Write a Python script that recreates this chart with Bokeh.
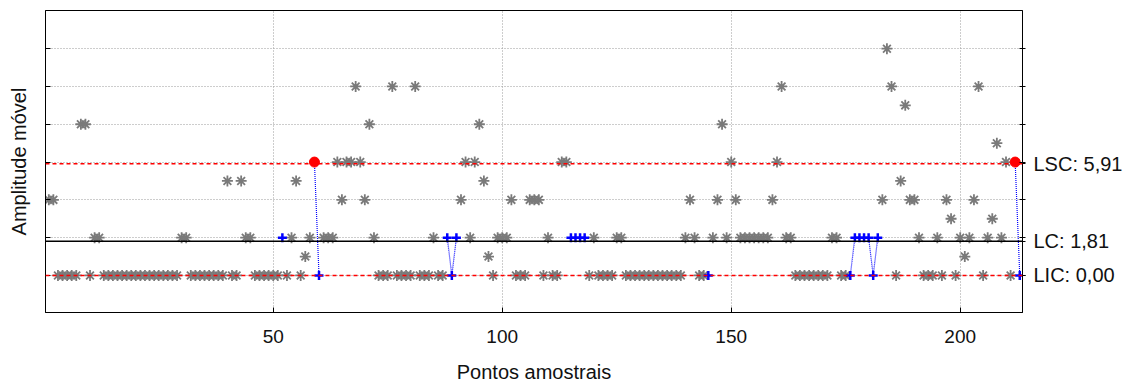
from bokeh.plotting import figure
from bokeh.models import Range1d, FixedTicker, LinearAxis, Span, ColumnDataSource
from bokeh.embed import file_html
from bokeh.resources import INLINE

# ---------------- data ----------------
sample = list(range(1, 214))
moving_range = [
    4, 4, 0, 0, 0, 0, 0, 8, 8, 0,
    2, 2, 0, 0, 0, 0, 0, 0, 0, 0,
    0, 0, 0, 0, 0, 0, 0, 0, 0, 2,
    2, 0, 0, 0, 0, 0, 0, 0, 0, 5,
    0, 0, 5, 2, 2, 0, 0, 0, 0, 0,
    0, 2, 0, 2, 5, 0, 1, 2, 6, 0,
    2, 2, 2, 6, 4, 6, 6, 10, 6, 4,
    8, 2, 0, 0, 0, 10, 0, 0, 0, 0,
    10, 0, 0, 0, 2, 0, 0, 2, 0, 2,
    4, 6, 2, 6, 8, 5, 1, 0, 2, 2,
    2, 4, 0, 0, 0, 4, 4, 4, 0, 2,
    0, 0, 6, 6, 2, 2, 2, 2, 0, 2,
    0, 0, 0, 0, 2, 2, 0, 0, 0, 0,
    0, 0, 0, 0, 0, 0, 0, 0, 0, 2,
    4, 2, 0, 0, 0, 2, 4, 8, 2, 6,
    4, 2, 2, 2, 2, 2, 2, 2, 4, 6,
    10, 2, 2, 0, 0, 0, 0, 0, 0, 0,
    0, 2, 2, 0, 0, 0, 2, 2, 2, 2,
    0, 2, 4, 12, 10, 0, 5, 9, 4, 4,
    2, 0, 0, 0, 2, 0, 4, 3, 0, 2,
    1, 2, 4, 10, 0, 2, 3, 7, 2, 6,
    0, 6, 0,
]
LSC = 5.91
LC = 1.81
LIC = 0.00
limit_labels = {LSC: "LSC: 5,91", LC: "LC: 1,81", LIC: "LIC: 0,00"}
x_ticks = [50, 100, 150, 200]
y_ticks = [0, 2, 4, 6, 8, 10, 12]
red_points = [59, 212]
blue_points = [52, 60, 88, 89, 90, 115, 116, 117, 118, 145,
               176, 177, 178, 179, 180, 181, 182, 213]
blue_runs = [[59, 60], [88, 89, 90], [115, 116, 117, 118],
             [176, 177, 178, 179, 180, 181, 182], [212, 213]]

FONT = "Liberation Sans"
TXT = "#111111"
mr = dict(zip(sample, moving_range))

p = figure(width=1128, height=385,
           x_range=Range1d(0.28, 213.6), y_range=Range1d(-1.96, 14.02),
           output_backend="svg", toolbar_location=None,
           min_border_left=45, min_border_right=106, min_border_top=10, min_border_bottom=71,
           x_axis_label="Pontos amostrais", y_axis_label="Amplitude móvel")
p.background_fill_color = "white"
p.border_fill_color = "white"
p.outline_line_color = "black"
p.outline_line_width = 1

# grid
p.xgrid.ticker = FixedTicker(ticks=x_ticks)
p.ygrid.ticker = FixedTicker(ticks=y_ticks)
for g in (p.xgrid[0], p.ygrid[0]):
    g.grid_line_color = "#9a9a9a"
    g.grid_line_dash = "1 2"
    g.grid_line_width = 1

# bottom axis
xa = p.xaxis[0]
xa.ticker = FixedTicker(ticks=x_ticks)
xa.major_tick_in = 5
xa.major_tick_out = 0
xa.minor_tick_in = 0
xa.minor_tick_out = 0
xa.axis_line_color = "black"
xa.major_tick_line_color = "black"
xa.major_label_text_font = FONT
xa.major_label_text_font_size = "19px"
xa.major_label_text_color = TXT
xa.major_label_standoff = 17
xa.axis_label_text_font = FONT
xa.axis_label_text_font_size = "20px"
xa.axis_label_text_font_style = "normal"
xa.axis_label_text_color = TXT
xa.axis_label_standoff = 15

# left axis: ticks only (as minor ticks), no tick labels
ya = p.yaxis[0]
ya.ticker = FixedTicker(ticks=[], minor_ticks=y_ticks)
ya.major_tick_in = 0
ya.major_tick_out = 0
ya.minor_tick_in = 5
ya.minor_tick_out = 0
ya.minor_tick_line_color = "black"
ya.major_label_standoff = 0
ya.axis_line_color = "black"
ya.axis_label_text_font = FONT
ya.axis_label_text_font_size = "20px"
ya.axis_label_text_font_style = "normal"
ya.axis_label_text_color = TXT
ya.axis_label_standoff = 16

# right axis with limit labels
ra = LinearAxis(ticker=FixedTicker(ticks=[LIC, LC, LSC], minor_ticks=y_ticks),
                major_label_overrides=limit_labels)
ra.major_tick_in = 3
ra.major_tick_out = 3
ra.minor_tick_in = 3
ra.minor_tick_out = 3
ra.axis_line_color = "black"
ra.major_label_text_font = FONT
ra.major_label_text_font_size = "20px"
ra.major_label_text_color = TXT
ra.major_label_standoff = 8
p.add_layout(ra, "right")

# ordinary points (gray asterisks)
normal = [s for s in sample if s not in red_points and s not in blue_points]
src = ColumnDataSource(dict(x=normal, y=[mr[s] for s in normal]))
p.scatter("x", "y", source=src, marker="asterisk", size=11,
          line_color="#7a7a7a", line_width=1.8)

# control lines
for loc, col, dash, w in ((LC, "black", "solid", 1.3),
                          (LSC, "#ff0000", "4 3", 1.4),
                          (LIC, "#ff0000", "4 3", 1.4)):
    sp = Span(location=loc, dimension="width", line_color=col,
              line_dash=dash, line_width=w)
    p.add_layout(sp)

# flagged runs
p.multi_line(xs=[run for run in blue_runs],
             ys=[[mr[s] for s in run] for run in blue_runs],
             line_color="#0000ff", line_dash="1 1", line_width=1.2)
p.scatter(x=blue_points, y=[mr[s] for s in blue_points], marker="cross",
          size=9, line_color="#0000ff", line_width=2.5)
p.scatter(x=red_points, y=[mr[s] for s in red_points], marker="circle",
          size=10, fill_color="#ff0000", line_color="#ff0000")

open("out.html", "w").write(file_html(p, INLINE))
